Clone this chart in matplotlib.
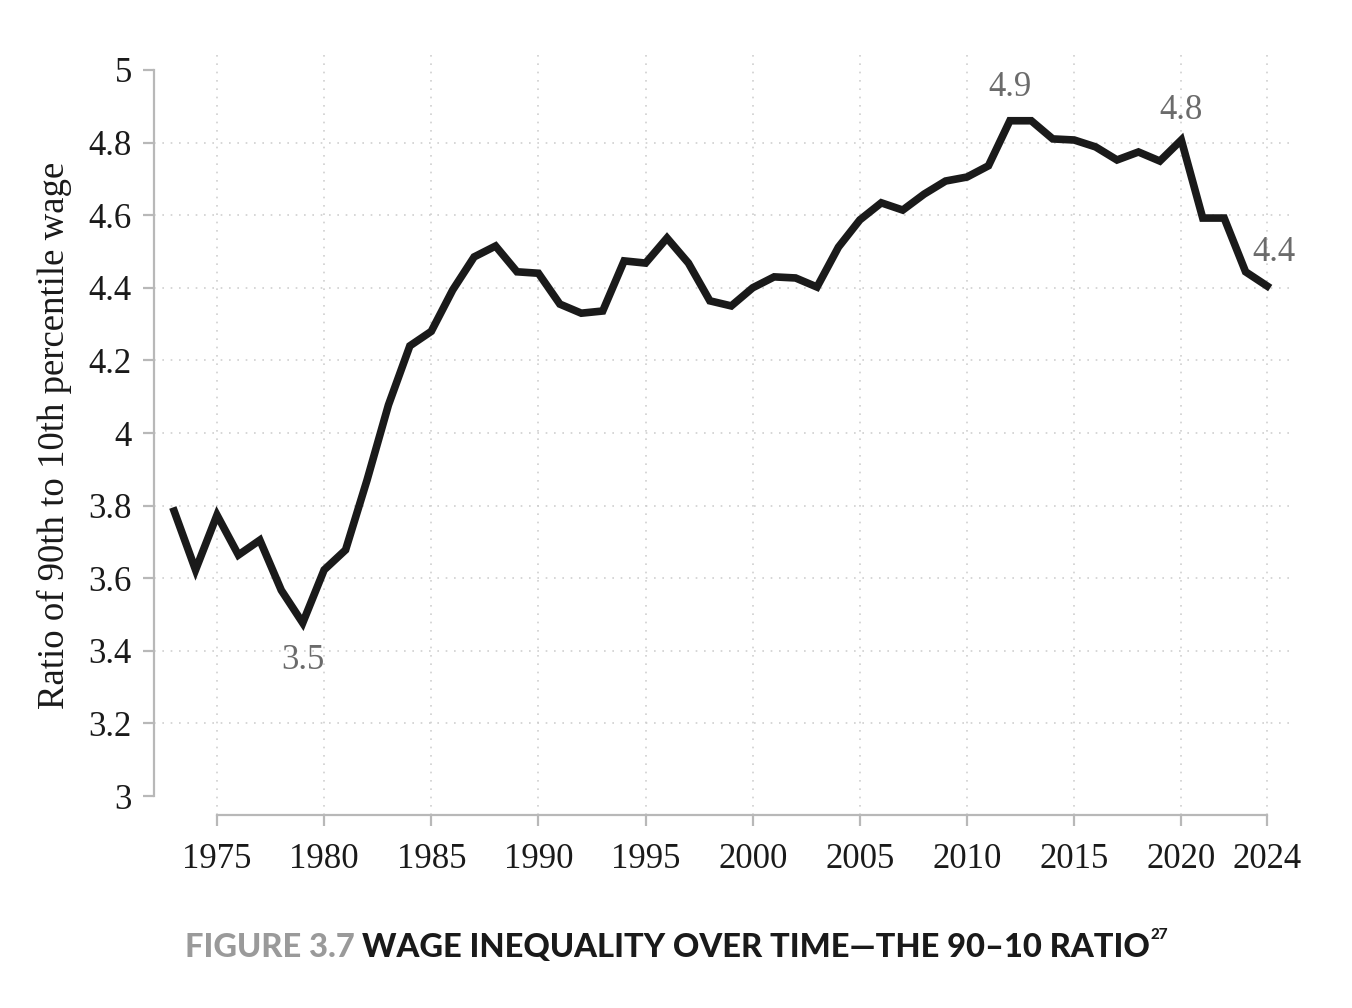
import matplotlib
matplotlib.use("Agg")
import matplotlib.pyplot as plt

# Data
years = list(range(1973, 2025))
ratio = [3.785, 3.623, 3.774, 3.664, 3.705, 3.567, 3.477, 3.623, 3.678, 3.870,
         4.077, 4.240, 4.280, 4.394, 4.485, 4.515, 4.444, 4.440, 4.355, 4.330,
         4.336, 4.474, 4.468, 4.537, 4.468, 4.364, 4.350, 4.400, 4.430, 4.427,
         4.402, 4.512, 4.587, 4.634, 4.614, 4.658, 4.694, 4.705, 4.736, 4.860,
         4.860, 4.810, 4.807, 4.788, 4.752, 4.774, 4.749, 4.807, 4.592, 4.592,
         4.444, 4.405]

x_ticks = [1975, 1980, 1985, 1990, 1995, 2000, 2005, 2010, 2015, 2020, 2024]
y_ticks = [3, 3.2, 3.4, 3.6, 3.8, 4, 4.2, 4.4, 4.6, 4.8, 5]
y_tick_labels = ["3", "3.2", "3.4", "3.6", "3.8", "4", "4.2", "4.4", "4.6", "4.8", "5"]

# Labelled points: year, text, offset in points
labels = [(1979, "3.5", (0, -15), "top"),
          (2012, "4.9", (0, 12), "bottom"),
          (2020, "4.8", (0, 9), "bottom"),
          (2024, "4.4", (5, 12), "bottom")]

serif = "Liberation Serif"
grey = "#b8b8b8"

fig = plt.figure(figsize=(13.52, 10.08), dpi=100)
ax = fig.add_axes([0.1139, 0.1915, 0.8402, 0.7539])

ax.plot(years, ratio, color="#1a1a1a", linewidth=5.5, solid_joinstyle="miter", zorder=3)

ax.set_xlim(1972.06, 2025.07)
ax.set_ylim(2.948, 5.041)

ax.set_xticks(x_ticks)
ax.set_xticklabels([str(x) for x in x_ticks], fontsize=25, fontfamily=serif)
ax.set_yticks(y_ticks)
ax.set_yticklabels(y_tick_labels, fontsize=25, fontfamily=serif)

for s in ["top", "right"]:
    ax.spines[s].set_visible(False)
for s in ["left", "bottom"]:
    ax.spines[s].set_color(grey)
    ax.spines[s].set_linewidth(1.6)
ax.spines["left"].set_bounds(3, 5)
ax.spines["bottom"].set_bounds(1975, 2024)

ax.tick_params(axis="both", colors=grey, labelcolor="#1a1a1a", length=8, width=1.6)
ax.tick_params(axis="x", pad=12)
ax.tick_params(axis="y", pad=8)

ax.grid(True, linestyle=(0, (1, 4)), color="#cfcfcf", linewidth=1.2, zorder=0)
ygl = ax.yaxis.get_gridlines()
ygl[0].set_visible(False)
ygl[-1].set_visible(False)

ax.set_ylabel("Ratio of 90th to 10th percentile wage", fontsize=26.5, fontfamily=serif,
              color="#1a1a1a", labelpad=12)

# Value labels
for yr, txt, off, va in labels:
    val = ratio[years.index(yr)]
    ax.annotate(txt, (yr, val), xytext=off, textcoords="offset points",
                ha="center", va=va, fontsize=25, fontfamily=serif, color="#6b6b6b")

# Caption with mixed colours
renderer = fig.canvas.get_renderer()
base_y = 1 - 957 / 1008
t1 = fig.text(185 / 1352, base_y, "FIGURE 3.7 ", fontsize=23.5, fontfamily="Lato",
              fontweight="black", color="#9a9a9a", ha="left", va="baseline")
bb = t1.get_window_extent(renderer).transformed(fig.transFigure.inverted())
t2 = fig.text(bb.x1, base_y, "WAGE INEQUALITY OVER TIME\u2014THE 90\u201310 RATIO",
              fontsize=23.5, fontfamily="Lato", fontweight="black", color="#1a1a1a",
              ha="left", va="baseline")
bb2 = t2.get_window_extent(renderer).transformed(fig.transFigure.inverted())
fig.text(bb2.x1, 1 - 939 / 1008, "27", fontsize=11, fontfamily="Lato",
         fontweight="black", color="#1a1a1a", ha="left", va="baseline")

fig.savefig("out.png", dpi=100)
